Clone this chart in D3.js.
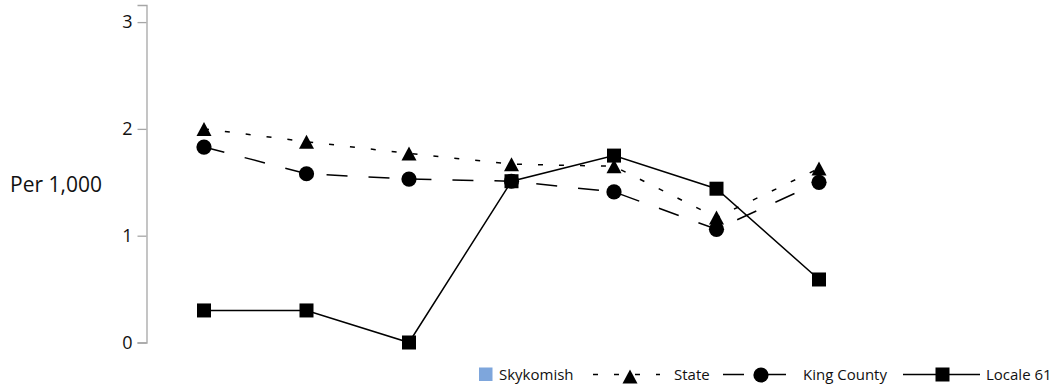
<!DOCTYPE html>
<html>
<head>
<meta charset="utf-8">
<script src="https://cdn.jsdelivr.net/npm/d3@7"></script>
<style>
  html, body { margin: 0; padding: 0; background: #fff; }
  svg { display: block; font-family: "Open Sans", "Noto Sans", sans-serif; }
</style>
</head>
<body>
<svg id="chart" width="1053" height="388"></svg>
<script>
// ---- data ----
const categories = ["1", "2", "3", "4", "5", "6", "7"];
const yTicks = [0, 1, 2, 3];
const yLabel = "Per 1,000";
const skykomish = [null, null, null, null, null, null, null];
const state = [2.0, 1.88, 1.77, 1.67, 1.65, 1.17, 1.63];
const kingCounty = [1.83, 1.58, 1.53, 1.51, 1.41, 1.06, 1.5];
const locale61 = [0.30, 0.30, 0.0, 1.51, 1.75, 1.44, 0.59];
const seriesNames = ["Skykomish", "State", "King County", "Locale 61"];

// ---- layout ----
const svg = d3.select("#chart");
const x = d3.scalePoint().domain(categories).range([204, 819]);
const y = d3.scaleLinear().domain([0, 3.16]).range([342.5, 5]);
const axisX = 146.5;

// y axis
const gy = svg.append("g").attr("transform", `translate(${axisX},0)`)
  .call(d3.axisLeft(y).tickValues(yTicks).tickFormat(d3.format("d")).tickSize(9).tickPadding(5));
gy.select(".domain").attr("stroke", "#a6a6a6").attr("stroke-width", 1.3);
gy.selectAll(".tick line").attr("stroke", "#a6a6a6").attr("stroke-width", 1.3);
gy.selectAll(".tick text").attr("fill", "#111").style("font-size", "18px")
  .style("font-family", "'Open Sans', sans-serif");

svg.append("text").attr("x", 10).attr("y", 192)
  .style("font-size", "21px").attr("fill", "#111").text(yLabel);

// marker shapes
function triPath(cx, cy, w, h) {
  return `M${cx},${cy - h / 2}L${cx + w / 2},${cy + h / 2}L${cx - w / 2},${cy + h / 2}Z`;
}
function drawMarker(g, type, cx, cy) {
  if (type === "triangle") {
    g.append("path").attr("d", triPath(cx, cy, 15, 14)).attr("fill", "#000");
  } else if (type === "circle") {
    g.append("circle").attr("cx", cx).attr("cy", cy).attr("r", 7.6).attr("fill", "#000");
  } else if (type === "square") {
    g.append("rect").attr("x", cx - 7).attr("y", cy - 7).attr("width", 14).attr("height", 14).attr("fill", "#000");
  }
}

const series = [
  { name: "State", values: state, dash: "5,16", marker: "triangle" },
  { name: "King County", values: kingCounty, dash: "21,21", marker: "circle" },
  { name: "Locale 61", values: locale61, dash: null, marker: "square" }
];

const line = d3.line()
  .defined(d => d != null)
  .x((d, i) => x(categories[i]))
  .y(d => y(d));

series.forEach(s => {
  const g = svg.append("g");
  g.append("path").datum(s.values)
    .attr("d", line)
    .attr("fill", "none")
    .attr("stroke", "#000")
    .attr("stroke-width", 1.5)
    .attr("stroke-dasharray", s.dash);
  s.values.forEach((v, i) => {
    if (v != null) drawMarker(g, s.marker, x(categories[i]), y(v));
  });
});

// ---- legend ----
const lg = svg.append("g").style("font-size", "15px");
const ly = 374.5, lty = 380;
// Skykomish
lg.append("rect").attr("x", 479).attr("y", 367.5).attr("width", 13.5).attr("height", 13.5).attr("fill", "#7ea6dc");
lg.append("text").attr("x", 499).attr("y", lty).attr("fill", "#111").text(seriesNames[0]);
// State
lg.append("line").attr("x1", 593).attr("x2", 660).attr("y1", ly).attr("y2", ly)
  .attr("stroke", "#000").attr("stroke-width", 1.5).attr("stroke-dasharray", "5,16");
drawMarker(lg, "triangle", 630, ly + 2);
lg.append("text").attr("x", 674).attr("y", lty).attr("fill", "#111").text(seriesNames[1]);
// King County
lg.append("line").attr("x1", 723).attr("x2", 787).attr("y1", ly).attr("y2", ly)
  .attr("stroke", "#000").attr("stroke-width", 1.5).attr("stroke-dasharray", "21,21");
drawMarker(lg, "circle", 761, ly + 0.5);
lg.append("text").attr("x", 803).attr("y", lty).attr("fill", "#111").text(seriesNames[2]);
// Locale 61
lg.append("line").attr("x1", 903).attr("x2", 980).attr("y1", ly).attr("y2", ly)
  .attr("stroke", "#000").attr("stroke-width", 1.5);
drawMarker(lg, "square", 942.5, ly);
lg.append("text").attr("x", 986).attr("y", lty).attr("fill", "#111").text(seriesNames[3]);
</script>
</body>
</html>
